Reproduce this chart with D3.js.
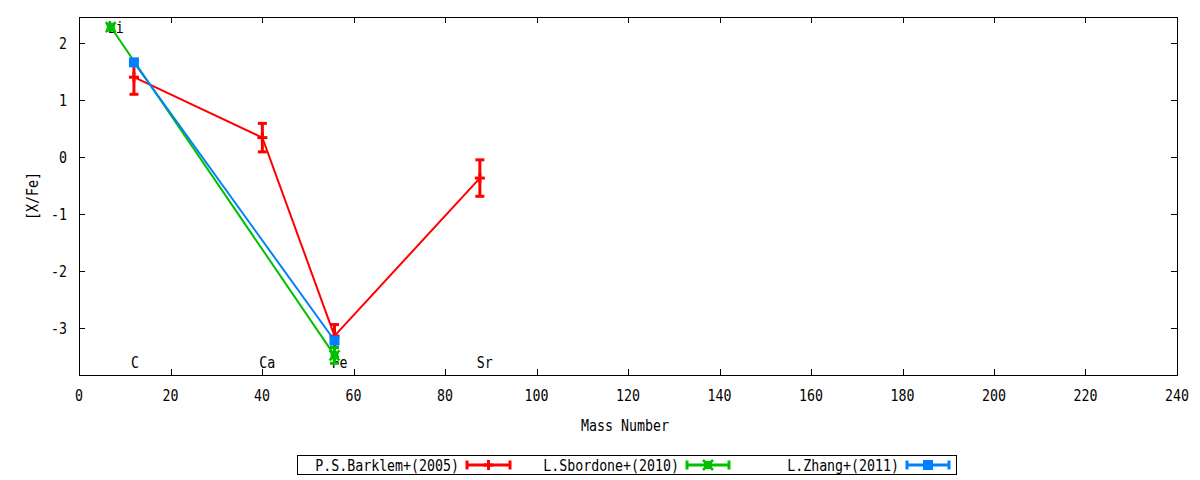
<!DOCTYPE html>
<html><head><meta charset="utf-8">
<script src="https://cdn.jsdelivr.net/npm/d3@7"></script>
<style>
body{margin:0;background:#fff;}
text{font-family:"DejaVu Sans Mono",monospace;font-size:16px;fill:#000;}
</style></head>
<body><svg id="c" width="1200" height="480"></svg>
<script>
// Data
const elements = ["Li","C","Ca","Fe","Sr"];
const elementMass = [6.94, 12.01, 40.08, 55.85, 87.62];
const labelY = [2.28, -3.6, -3.6, -3.6, -3.6];

const barklemX = [12.01, 40.08, 55.85, 87.62];
const barklemY = [1.40, 0.34, -3.14, -0.37];
const barklemErr = [0.30, 0.25, 0.20, 0.32];

const sbordoneX = [6.94, 55.85];
const sbordoneY = [2.28, -3.48];
const sbordoneErr = [0.05, 0.14];

const zhangX = [12.01, 55.85];
const zhangY = [1.66, -3.22];
const zhangErr = [0.0, 0.0];

const seriesNames = ["P.S.Barklem+(2005)", "L.Sbordone+(2010)", "L.Zhang+(2011)"];
const seriesColors = ["#ff0000", "#00c000", "#0080ff"];

const xTicks = d3.range(0, 241, 20);
const yTicks = [-3, -2, -1, 0, 1, 2];

const svg = d3.select("#c");
const L = 79, R = 1177, T = 17, B = 375;
const x = d3.scaleLinear().domain([0, 240]).range([L, R]);
const y = d3.scaleLinear().domain([-3.825, 2.456]).range([B, T]);
const SX = 0.83;

function txt(g, px, py, s, anchor) {
  return g.append("text")
    .attr("transform", `translate(${px},${py}) scale(${SX},1)`)
    .attr("text-anchor", anchor || "start")
    .attr("dominant-baseline", "central")
    .text(s);
}

// Axes frame
svg.append("rect").attr("x", L + 0.5).attr("y", T + 0.5).attr("width", R - L).attr("height", B - T)
  .attr("fill", "none").attr("stroke", "#000").attr("stroke-width", 1);

const tickLen = 6;
const axG = svg.append("g");
xTicks.forEach(v => {
  const px = Math.round(x(v)) + 0.5;
  axG.append("line").attr("x1", px).attr("x2", px).attr("y1", B).attr("y2", B - tickLen).attr("stroke", "#000");
  axG.append("line").attr("x1", px).attr("x2", px).attr("y1", T).attr("y2", T + tickLen).attr("stroke", "#000");
  txt(axG, x(v), 395, String(v), "middle");
});
yTicks.forEach(v => {
  const py = Math.round(y(v)) + 0.5;
  axG.append("line").attr("x1", L).attr("x2", L + tickLen).attr("y1", py).attr("y2", py).attr("stroke", "#000");
  axG.append("line").attr("x1", R).attr("x2", R - tickLen).attr("y1", py).attr("y2", py).attr("stroke", "#000");
  txt(axG, 67, y(v), String(v), "end");
});

// Axis labels
txt(svg, 625, 425, "Mass Number", "middle");
svg.append("text")
  .attr("transform", `translate(32,196) rotate(-90) scale(${SX},1)`)
  .attr("text-anchor", "middle").attr("dominant-baseline", "central")
  .text("[X/Fe]");

// Element labels
const lg = svg.append("g");
elements.forEach((e, i) => txt(lg, x(elementMass[i]) - 3, y(labelY[i]), e, "start"));

// Series drawing
const series = [
  {xs: barklemX, ys: barklemY, es: barklemErr, pt: "plus"},
  {xs: sbordoneX, ys: sbordoneY, es: sbordoneErr, pt: "xbox"},
  {xs: zhangX, ys: zhangY, es: zhangErr, pt: "square"}
];
const line = d3.line().x(d => x(d[0])).y(d => y(d[1]));

function point(g, cx, cy, pt, col) {
  if (pt === "plus") {
    g.append("line").attr("x1", cx - 5).attr("x2", cx + 5).attr("y1", cy).attr("y2", cy).attr("stroke", col).attr("stroke-width", 3);
    g.append("line").attr("x1", cx).attr("x2", cx).attr("y1", cy - 5).attr("y2", cy + 5).attr("stroke", col).attr("stroke-width", 3);
  } else if (pt === "xbox") {
    g.append("rect").attr("x", cx - 4).attr("y", cy - 4).attr("width", 8).attr("height", 8).attr("fill", col);
    g.append("path").attr("d", `M${cx-5},${cy-5}L${cx+5},${cy+5}M${cx+5},${cy-5}L${cx-5},${cy+5}`).attr("stroke", col).attr("stroke-width", 2.5);
  } else {
    g.append("rect").attr("x", cx - 5).attr("y", cy - 5).attr("width", 10).attr("height", 10).attr("fill", col);
  }
}
function errbar(g, cx, y1, y2, col) {
  g.append("line").attr("x1", cx).attr("x2", cx).attr("y1", y1).attr("y2", y2).attr("stroke", col).attr("stroke-width", 3);
  [y1, y2].forEach(yy => g.append("line").attr("x1", cx - 4.5).attr("x2", cx + 4.5).attr("y1", yy).attr("y2", yy).attr("stroke", col).attr("stroke-width", 3));
}

series.forEach((s, k) => {
  const col = seriesColors[k];
  const g = svg.append("g");
  const pts = s.xs.map((v, i) => [v, s.ys[i]]);
  g.append("path").attr("d", line(pts)).attr("fill", "none").attr("stroke", col).attr("stroke-width", 2);
  pts.forEach((p, i) => {
    if (s.es[i] > 0) errbar(g, x(p[0]), y(p[1] + s.es[i]), y(p[1] - s.es[i]), col);
    point(g, x(p[0]), y(p[1]), s.pt, col);
  });
});

// Legend
const leg = svg.append("g");
leg.append("rect").attr("x", 297.5).attr("y", 455.5).attr("width", 659).attr("height", 19)
  .attr("fill", "#fff").attr("stroke", "#000");
const legTextRight = [459, 679, 899];
const legSample = [[467, 510], [687, 729], [907, 949]];
seriesNames.forEach((n, k) => {
  const col = seriesColors[k];
  txt(leg, legTextRight[k], 465, n, "end");
  const [a, b] = legSample[k];
  leg.append("line").attr("x1", a).attr("x2", b).attr("y1", 465).attr("y2", 465).attr("stroke", col).attr("stroke-width", 3);
  [a, b].forEach(xx => leg.append("line").attr("x1", xx).attr("x2", xx).attr("y1", 460.5).attr("y2", 469.5).attr("stroke", col).attr("stroke-width", 3));
  point(leg, (a + b) / 2, 465, series[k].pt, col);
});
</script></body></html>
